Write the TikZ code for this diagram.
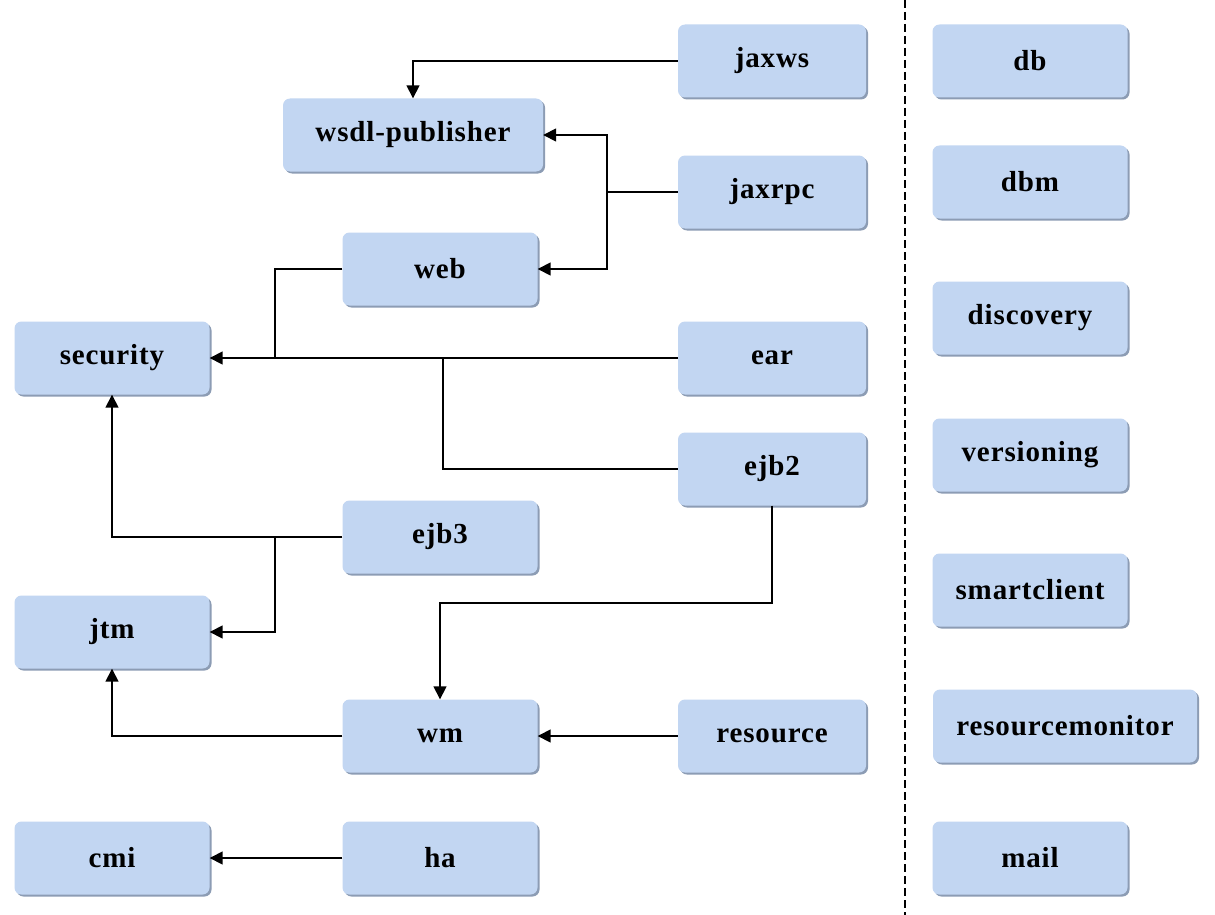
\documentclass[tikz,border=0pt]{standalone}
\usepackage{fontspec}
\setmainfont{Liberation Serif}[LetterSpace=3]
\usetikzlibrary{arrows.meta,shadows}
\definecolor{boxfill}{HTML}{C2D6F2}
\definecolor{boxshadow}{HTML}{8C9CB4}
\begin{document}
\begin{tikzpicture}[x=1pt,y=-1pt,
  box/.style={fill=boxfill, rounded corners=7pt, minimum height=73pt, inner sep=0pt,
     font=\fontsize{29}{32}\selectfont\bfseries,
     general shadow={shadow xshift=2pt, shadow yshift=-2pt, fill=boxshadow}},
  wA/.style={box, minimum width=188pt},
  wB/.style={box, minimum width=195pt},
  conn/.style={line width=1.6pt},
  arr/.style={conn, -{Triangle[length=13pt,width=13pt]}}]
\useasboundingbox (0,0) rectangle (1215,915);
\fill[white] (0,0) rectangle (1215,915);
% left / middle nodes
\node[wA] (jaxws) at (772,61) {jaxws};
\node[box, minimum width=260pt] (wsdl) at (413,135) {wsdl-publisher};
\node[wA] (jaxrpc) at (772,192) {jaxrpc};
\node[wB] (web) at (440,269) {web};
\node[wB] (security) at (112,358) {security};
\node[wA] (ear) at (772,358) {ear};
\node[wA] (ejb2) at (772,469) {ejb2};
\node[wB] (ejb3) at (440,537) {ejb3};
\node[wB] (jtm) at (112,632) {jtm};
\node[wB] (wm) at (440,736) {wm};
\node[wA] (resource) at (772,736) {resource};
\node[wB] (cmi) at (112,858) {cmi};
\node[wB] (ha) at (440,858) {ha};
% right column
\node[wB] (db) at (1030,61) {db};
\node[wB] (dbm) at (1030,182) {dbm};
\node[wB] (discovery) at (1030,318) {discovery};
\node[wB] (versioning) at (1030,455) {versioning};
\node[wB] (smartclient) at (1030,590) {smartclient};
\node[box, minimum width=264pt] (resourcemonitor) at (1065,726) {resourcemonitor};
\node[wB] (mail) at (1030,858) {mail};
% separator
\coordinate (d1) at (905,0);
\coordinate (d2) at (905,915);
\draw[line width=1.8pt, dash pattern=on 8pt off 4pt] (d1) -- (d2);
% bend coordinates
\coordinate (jx) at (607,0);
\coordinate (wx) at (275,0);
\coordinate (ex) at (443,0);
\coordinate (ey) at (0,603);
% connectors
\draw[arr] (jaxws.west) -| (wsdl.north);
\draw[conn] (jaxrpc.west) -- (jaxrpc.west -| jx);
\draw[arr] (jaxrpc.west -| jx) |- (wsdl.east);
\draw[arr] (jaxrpc.west -| jx) |- (web.east);
\draw[conn] (web.west) -- (web.west -| wx) -- (security.east -| wx);
\draw[arr] (ear.west) -- (security.east);
\draw[conn] (ejb2.west) -- (ejb2.west -| ex) -- (security.east -| ex);
\draw[arr] (ejb3.west) -| (security.south);
\draw[arr] (ejb3.west -| wx) |- (jtm.east);
\draw[arr] (ejb2.south) -- (ejb2.south |- ey) -| (wm.north);
\draw[arr] (wm.west) -| (jtm.south);
\draw[arr] (resource.west) -- (wm.east);
\draw[arr] (ha.west) -- (cmi.east);
\end{tikzpicture}
\end{document}
